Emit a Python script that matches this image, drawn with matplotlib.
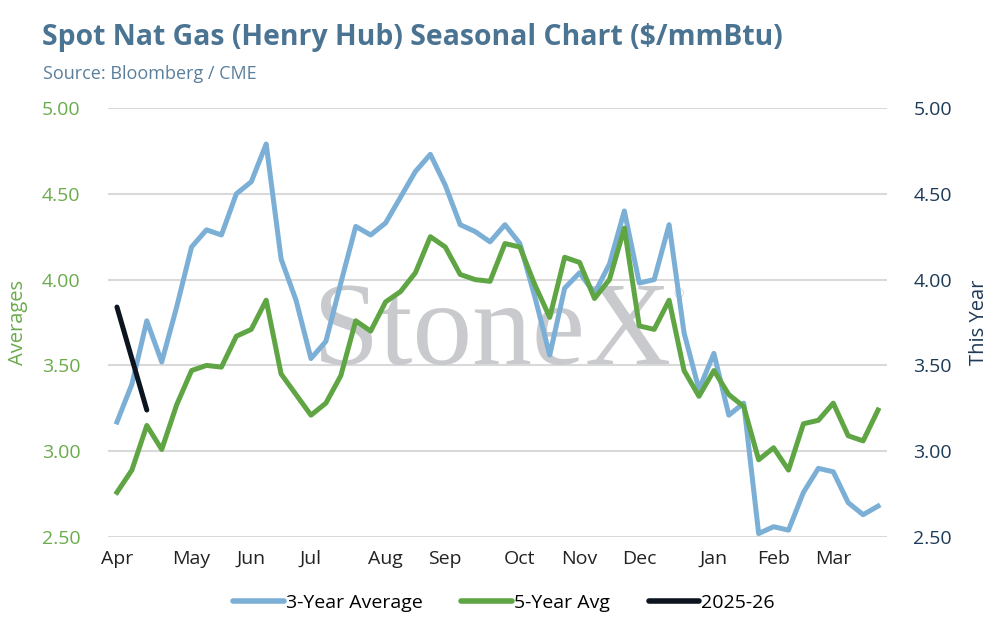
import matplotlib.pyplot as plt
from matplotlib.lines import Line2D

# weekly values, Apr -> Mar (52 weeks)
three_year = [3.17, 3.39, 3.76, 3.52, 3.84, 4.19, 4.29, 4.26, 4.50, 4.57,
              4.79, 4.12, 3.88, 3.54, 3.64, 3.98, 4.31, 4.26, 4.33, 4.48,
              4.63, 4.73, 4.55, 4.32, 4.28, 4.22, 4.32, 4.21, 3.90, 3.56,
              3.95, 4.04, 3.92, 4.09, 4.40, 3.98, 4.00, 4.32, 3.69, 3.36,
              3.57, 3.21, 3.28, 2.52, 2.56, 2.54, 2.76, 2.90, 2.88, 2.70,
              2.63, 2.68]
five_year = [2.76, 2.89, 3.15, 3.01, 3.27, 3.47, 3.50, 3.49, 3.67, 3.71,
             3.88, 3.45, 3.33, 3.21, 3.28, 3.44, 3.76, 3.70, 3.87, 3.93,
             4.04, 4.25, 4.19, 4.03, 4.00, 3.99, 4.21, 4.19, 3.97, 3.78,
             4.13, 4.10, 3.89, 4.00, 4.30, 3.73, 3.71, 3.88, 3.47, 3.32,
             3.47, 3.33, 3.26, 2.95, 3.02, 2.89, 3.16, 3.18, 3.28, 3.09,
             3.06, 3.24]
this_year = [3.84, 3.54, 3.24]

month_labels = ['Apr', 'May', 'Jun', 'Jul', 'Aug', 'Sep', 'Oct', 'Nov',
                'Dec', 'Jan', 'Feb', 'Mar']
month_weeks = [0, 5, 9, 13, 18, 22, 27, 31, 35, 40, 44, 48]
y_ticks = [2.5, 3.0, 3.5, 4.0, 4.5, 5.0]

BLUE = '#7bafd6'
GREEN = '#5fa544'
BLACK = '#0c1420'
TITLE = '#4b7493'
NAVY = '#1d3a57'
plt.rcParams['font.family'] = ['Open Sans', 'DejaVu Sans']

fig = plt.figure(figsize=(9.95, 6.22), dpi=100)
ax = fig.add_axes([108 / 995, 1 - 537 / 622, 779 / 995, 429 / 622])
ax2 = ax.twinx()

weeks = list(range(len(three_year)))
ax.plot(weeks, three_year, color=BLUE, lw=3.6, solid_joinstyle='round', zorder=3)
ax.plot(weeks, five_year, color=GREEN, lw=3.6, solid_joinstyle='round', zorder=3)
ax2.plot(range(len(this_year)), this_year, color=BLACK, lw=3.6,
         solid_capstyle='round', zorder=3)

for a in (ax, ax2):
    a.set_ylim(2.5, 5.0)
    a.set_yticks(y_ticks)
    a.set_xlim(-0.6, len(three_year) - 0.4)
    for s in a.spines.values():
        s.set_visible(False)

ax.yaxis.grid(True, color='#d9d9d9', lw=1.5, zorder=0)
ax.set_axisbelow(True)
ax.set_yticklabels([f'{v:.2f}' for v in y_ticks])
ax2.set_yticklabels([f'{v:.2f}' for v in y_ticks])
ax.tick_params(axis='y', length=0, labelsize=14, labelcolor='#6aab4c', pad=20)
ax2.tick_params(axis='y', length=0, labelsize=14, labelcolor=NAVY, pad=19)
ax.set_xticks(month_weeks)
ax.set_xticklabels(month_labels)
ax.tick_params(axis='x', length=0, labelsize=14, labelcolor='#222222', pad=9)

ax.set_ylabel('Averages', color='#6aab4c', fontsize=14.5, labelpad=10)
ax2.set_ylabel('This Year', color=NAVY, fontsize=14.5, labelpad=12)

# watermark
ax.text(0.493, 0.47, 'StoneX', transform=ax.transAxes, ha='center', va='center',
        fontsize=86, family='Liberation Serif', color='#c9cacd', zorder=1)
ax.text(0.733, 0.565, '®', transform=ax.transAxes, ha='center', va='center',
        fontsize=9, color='#c9cacd', zorder=1)

fig.text(42 / 995, 1 - 38 / 622, 'Spot Nat Gas (Henry Hub) Seasonal Chart ($/mmBtu)',
         fontsize=20.4, fontweight='bold', color=TITLE, va='center')
fig.text(43 / 995, 1 - 74 / 622, 'Source: Bloomberg / CME', fontsize=13,
         color='#5a7f9c', va='center')

handles = [Line2D([0], [0], color=BLUE, lw=4, solid_capstyle='round'),
           Line2D([0], [0], color=GREEN, lw=4, solid_capstyle='round'),
           Line2D([0], [0], color=BLACK, lw=4, solid_capstyle='round')]
fig.legend(handles, ['3-Year Average', '5-Year Avg', '2025-26'],
           loc='center', bbox_to_anchor=(504 / 995, 1 - 603 / 622), ncol=3,
           frameon=False, fontsize=14, handlelength=2.6, handletextpad=0.1,
           columnspacing=2.0)

fig.savefig('out.png', dpi=100, facecolor='white')
